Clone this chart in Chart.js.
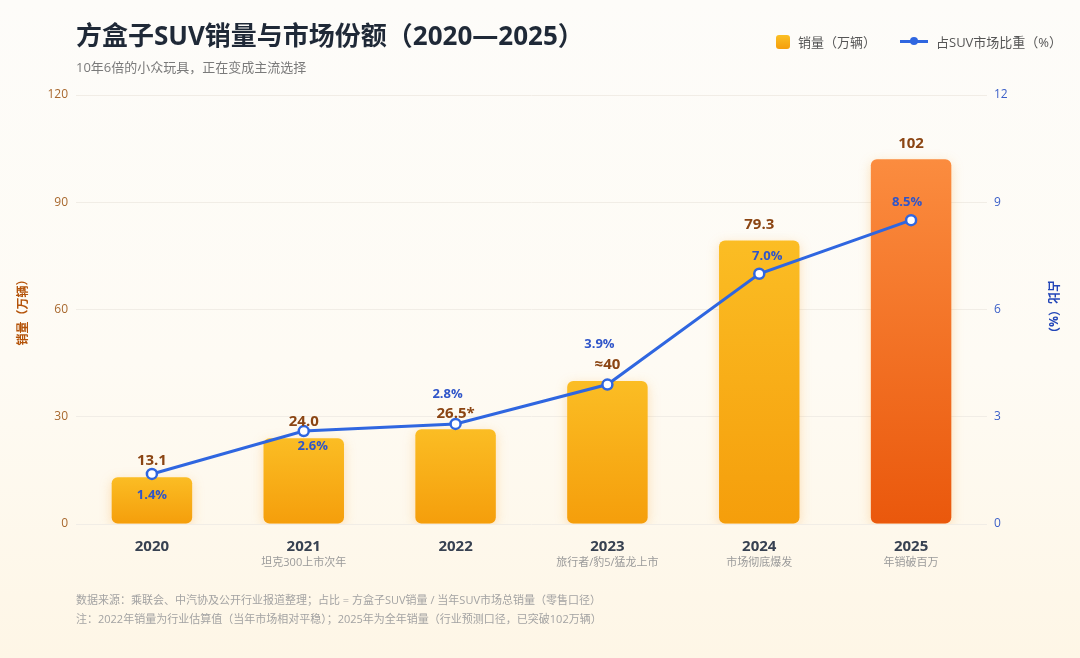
<!DOCTYPE html>
<html>
<head>
<meta charset="utf-8">
<script src="https://cdn.jsdelivr.net/npm/chart.js@4.4.1/dist/chart.umd.min.js"></script>
<style>
  html, body { margin: 0; padding: 0; }
  body {
    width: 1080px; height: 658px; position: relative; overflow: hidden;
    background: linear-gradient(180deg, #fdfcf9 0%, #fefbf4 55%, #fef6e6 100%);
    font-family: "Open Sans", "Noto Sans CJK SC", sans-serif;
  }
  #wrap { position: absolute; left: 0; top: 0; width: 1080px; height: 658px; }
  .title { position: absolute; left: 76px; top: 15px; font-size: 26px; font-weight: 700; color: #1f2937; }
  .sub { position: absolute; left: 76px; top: 57px; font-size: 13px; color: #7a7a7a; }
  .legend { position: absolute; top: 32px; font-size: 13px; color: #555; display: flex; align-items: center; }
  .sw { width: 14px; height: 14px; border-radius: 3px; background: linear-gradient(180deg, #fbbf24, #f59e0b); margin-right: 8px; }
  .ln { width: 28px; height: 3px; background: #2f66e0; position: relative; margin-right: 8px; }
  .ln:after { content: ""; position: absolute; left: 10px; top: -3px; width: 8px; height: 8px; border-radius: 50%; background: #2f66e0; }
  .foot { position: absolute; left: 76px; font-size: 11px; color: #a3a3a3; }
</style>
</head>
<body>
<div id="wrap"><canvas id="chart" width="1080" height="658"></canvas></div>
<div class="title">方盒子SUV销量与市场份额（2020—2025）</div>
<div class="sub">10年6倍的小众玩具，正在变成主流选择</div>
<div class="legend" style="left:776px"><div class="sw"></div>销量（万辆）</div>
<div class="legend" style="left:900px"><div class="ln"></div>占SUV市场比重（%）</div>
<div class="foot" style="top:591px">数据来源：乘联会、中汽协及公开行业报道整理；占比 = 方盒子SUV销量 / 当年SUV市场总销量（零售口径）</div>
<div class="foot" style="top:610px">注：2022年销量为行业估算值（当年市场相对平稳）；2025年为全年销量（行业预测口径，已突破102万辆）</div>
<script>
const years = ['2020', '2021', '2022', '2023', '2024', '2025'];
const notes = ['', '坦克300上市次年', '', '旅行者/豹5/猛龙上市', '市场彻底爆发', '年销破百万'];
const sales = [13.1, 24.0, 26.5, 40, 79.3, 102];
const salesLabels = ['13.1', '24.0', '26.5*', '≈40', '79.3', '102'];
const share = [1.4, 2.6, 2.8, 3.9, 7.0, 8.5];
const shareLabels = ['1.4%', '2.6%', '2.8%', '3.9%', '7.0%', '8.5%'];

// where each % label sits relative to its point
const shareLabelShift = [[0, 21], [9, 15], [-8, -30], [-8, -40], [8, -17], [-4, -18]];

const FONT = '"Open Sans", "Noto Sans CJK SC", sans-serif';

function barFill(ctx) {
    const chart = ctx.chart;
    const area = chart.chartArea;
    const last = ctx.dataIndex === sales.length - 1;
    if (!area || ctx.type !== 'data') return last ? '#f47a2a' : '#f9b21c';
    const y = chart.scales.y;
    const top = y.getPixelForValue(sales[ctx.dataIndex]);
    const g = chart.ctx.createLinearGradient(0, top, 0, y.getPixelForValue(0));
    if (last) {
        g.addColorStop(0, '#fb8c3f');
        g.addColorStop(1, '#ea580c');
    } else {
        g.addColorStop(0, '#fbbd24');
        g.addColorStop(1, '#f59e0b');
    }
    return g;
}

const glow = {
    id: 'glow',
    beforeDatasetDraw(chart, args) {
        if (args.index !== 0) return;
        const c = chart.ctx;
        c.save();
        c.shadowColor = 'rgba(245, 150, 20, 0.28)';
        c.shadowBlur = 12;
        c.shadowOffsetY = 3;
    },
    afterDatasetDraw(chart, args) {
        if (args.index !== 0) return;
        chart.ctx.restore();
    }
};

const valueLabels = {
    id: 'valueLabels',
    afterDatasetsDraw(chart) {
        const c = chart.ctx;
        const bars = chart.getDatasetMeta(0).data;
        const pts = chart.getDatasetMeta(1).data;
        c.save();
        c.textAlign = 'center';
        c.textBaseline = 'middle';
        c.font = 'bold 15px ' + FONT;
        c.fillStyle = '#8b4513';
        bars.forEach((b, i) => c.fillText(salesLabels[i], b.x, b.y - 16));
        c.font = 'bold 13px ' + FONT;
        c.fillStyle = '#2f55c9';
        pts.forEach((p, i) => c.fillText(shareLabels[i], p.x + shareLabelShift[i][0], p.y + shareLabelShift[i][1]));
        // notes under the year ticks
        const x = chart.scales.x;
        c.font = '11px ' + FONT;
        c.fillStyle = '#9a9a9a';
        notes.forEach((n, i) => { if (n) c.fillText(n, x.getPixelForValue(i), 563); });
        c.restore();
    }
};

const chart = new Chart(document.getElementById('chart'), {
    data: {
        labels: years,
        datasets: [{
            type: 'bar',
            label: '销量（万辆）',
            data: sales,
            yAxisID: 'y',
            backgroundColor: barFill,
            borderRadius: 6,
            borderSkipped: false,
            barPercentage: 0.53,
            categoryPercentage: 1,
            order: 1
        }, {
            type: 'line',
            label: '占SUV市场比重（%）',
            data: share,
            yAxisID: 'y1',
            borderColor: '#2f66e0',
            borderWidth: 3,
            pointRadius: 5,
            pointBorderWidth: 2.5,
            pointBackgroundColor: '#ffffff',
            pointBorderColor: '#2f66e0',
            tension: 0,
            order: 0
        }]
    },
    options: {
        responsive: false,
        animation: false,
        layout: { padding: { left: 12, right: 16, top: 95, bottom: 84 } },
        scales: {
            x: {
                grid: { display: false, drawTicks: false },
                border: { display: false },
                ticks: { color: '#374151', font: { family: FONT, size: 15, weight: 'bold' }, padding: 14 },
                afterFit(s) { s.height = 50; }
            },
            y: {
                position: 'left',
                min: 0, max: 120,
                ticks: { stepSize: 30, color: '#a8682e', font: { family: FONT, size: 12 }, padding: 8 },
                grid: { color: '#f1ede6', drawTicks: false },
                border: { display: false },
                title: { display: true, text: '销量（万辆）', color: '#b45309', font: { family: FONT, size: 12, weight: 'bold' } },
                afterFit(s) { s.width = 64; }
            },
            y1: {
                position: 'right',
                min: 0, max: 12,
                ticks: { stepSize: 3, color: '#3b5fc8', font: { family: FONT, size: 12 }, padding: 7 },
                grid: { display: false, drawTicks: false },
                border: { display: false },
                title: { display: true, text: '占比（%）', color: '#2346b8', font: { family: FONT, size: 12, weight: 'bold' } },
                afterFit(s) { s.width = 77; }
            }
        },
        plugins: {
            legend: { display: false },
            tooltip: { enabled: false }
        }
    },
    plugins: [glow, valueLabels]
});
</script>
</body>
</html>
